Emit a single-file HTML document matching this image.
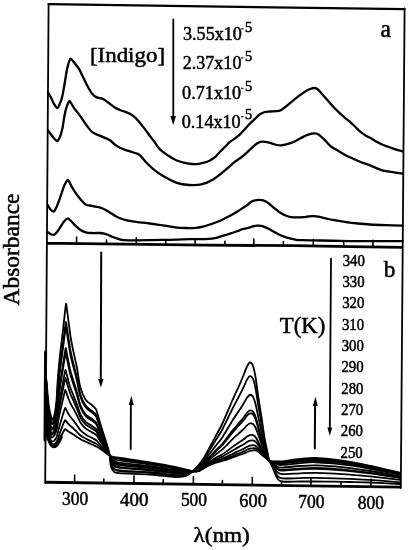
<!DOCTYPE html>
<html><head><meta charset="utf-8"><style>
html,body{margin:0;padding:0;background:#fff;}
svg{display:block;will-change:transform;}
text{font-family:"Liberation Serif",serif;fill:#000;stroke:#000;stroke-width:0.5px;}
</style></head><body>
<svg width="408" height="550" viewBox="0 0 408 550">
<rect width="408" height="550" fill="#fff"/>
<g fill="none" stroke="#000" stroke-linecap="round" stroke-linejoin="round">
<line x1="48.50" y1="4.20" x2="404.50" y2="9.20" stroke-width="2.20"/>
<line x1="48.60" y1="4.00" x2="45.20" y2="483.00" stroke-width="1.80"/>
<line x1="45.60" y1="352.00" x2="45.00" y2="440.00" stroke-width="3.00"/>
<line x1="404.60" y1="8.50" x2="400.80" y2="488.00" stroke-width="1.80"/>
<polyline points="46.8,243.3 60,243.4 125,244.2 205,245.2 295,245.7 350,246.6 403,247.3" stroke-width="2.8" stroke-linecap="butt"/>
<polyline points="45,482.2 401,487.1" stroke-width="2.9" stroke-linecap="butt"/>
<line x1="76.60" y1="243.60" x2="76.60" y2="237.10" stroke-width="1.60"/>
<line x1="106.50" y1="243.97" x2="106.50" y2="239.97" stroke-width="1.60"/>
<line x1="136.30" y1="244.34" x2="136.30" y2="237.84" stroke-width="1.60"/>
<line x1="165.80" y1="244.71" x2="165.80" y2="240.71" stroke-width="1.60"/>
<line x1="195.20" y1="245.08" x2="195.20" y2="238.58" stroke-width="1.60"/>
<line x1="224.90" y1="245.31" x2="224.90" y2="241.31" stroke-width="1.60"/>
<line x1="253.80" y1="245.47" x2="253.80" y2="238.97" stroke-width="1.60"/>
<line x1="283.40" y1="245.64" x2="283.40" y2="241.64" stroke-width="1.60"/>
<line x1="313.30" y1="246.00" x2="313.30" y2="239.50" stroke-width="1.60"/>
<line x1="343.70" y1="246.50" x2="343.70" y2="242.50" stroke-width="1.60"/>
<line x1="373.00" y1="246.90" x2="373.00" y2="240.40" stroke-width="1.60"/>
<line x1="74.60" y1="482.61" x2="74.60" y2="475.11" stroke-width="1.60"/>
<line x1="103.80" y1="483.01" x2="103.80" y2="479.01" stroke-width="1.60"/>
<line x1="134.00" y1="483.43" x2="134.00" y2="475.93" stroke-width="1.60"/>
<line x1="163.20" y1="483.83" x2="163.20" y2="479.83" stroke-width="1.60"/>
<line x1="193.40" y1="484.24" x2="193.40" y2="476.74" stroke-width="1.60"/>
<line x1="222.40" y1="484.64" x2="222.40" y2="480.64" stroke-width="1.60"/>
<line x1="252.30" y1="485.05" x2="252.30" y2="477.55" stroke-width="1.60"/>
<line x1="281.50" y1="485.46" x2="281.50" y2="481.46" stroke-width="1.60"/>
<line x1="311.00" y1="485.86" x2="311.00" y2="478.36" stroke-width="1.60"/>
<line x1="341.00" y1="486.27" x2="341.00" y2="482.27" stroke-width="1.60"/>
<line x1="370.90" y1="486.69" x2="370.90" y2="479.19" stroke-width="1.60"/>
<path d="M48.00,92.50 C48.50,93.33 50.08,95.75 51.00,97.50 C51.92,99.25 52.45,101.25 53.50,103.00 C54.55,104.75 56.22,107.97 57.30,108.00 C58.38,108.03 59.15,105.20 60.00,103.20 C60.85,101.20 61.55,99.78 62.40,96.00 C63.25,92.22 64.27,85.23 65.10,80.50 C65.93,75.77 66.48,71.27 67.40,67.60 C68.32,63.93 70.17,58.76 70.60,58.50 C71.03,58.24 73.28,61.43 74.70,63.20 C76.12,64.97 77.63,66.65 79.10,69.10 C80.57,71.55 82.03,74.95 83.50,77.90 C84.97,80.85 86.42,84.10 87.90,86.80 C89.38,89.50 90.92,92.33 92.40,94.10 C93.88,95.87 95.10,96.62 96.80,97.40 C98.50,98.18 100.65,97.90 102.60,98.80 C104.55,99.70 106.53,101.40 108.50,102.80 C110.47,104.20 112.48,106.00 114.40,107.20 C116.32,108.40 118.23,109.25 120.00,110.00 C121.77,110.75 123.33,111.07 125.00,111.70 C126.67,112.33 128.33,112.85 130.00,113.80 C131.67,114.75 133.33,115.88 135.00,117.40 C136.67,118.92 138.33,120.92 140.00,122.90 C141.67,124.88 143.33,127.12 145.00,129.30 C146.67,131.48 148.33,133.78 150.00,136.00 C151.67,138.22 153.33,140.37 155.00,142.60 C156.67,144.83 157.93,147.32 160.00,149.40 C162.07,151.48 164.70,153.30 167.40,155.10 C170.10,156.90 172.88,158.83 176.20,160.20 C179.52,161.57 183.83,162.65 187.30,163.30 C190.77,163.95 194.05,164.25 197.00,164.10 C199.95,163.95 202.83,163.00 205.00,162.40 C207.17,161.80 208.33,161.37 210.00,160.50 C211.67,159.63 213.33,158.65 215.00,157.20 C216.67,155.75 218.33,153.53 220.00,151.80 C221.67,150.07 223.33,148.45 225.00,146.80 C226.67,145.15 228.33,143.30 230.00,141.90 C231.67,140.50 233.33,139.67 235.00,138.40 C236.67,137.13 238.33,135.87 240.00,134.30 C241.67,132.73 243.33,130.80 245.00,129.00 C246.67,127.20 248.33,125.20 250.00,123.50 C251.67,121.80 253.33,120.35 255.00,118.80 C256.67,117.25 258.33,115.33 260.00,114.20 C261.67,113.07 263.33,112.45 265.00,112.00 C266.67,111.55 267.67,111.68 270.00,111.50 C272.33,111.32 276.67,111.48 279.00,110.90 C281.33,110.32 282.37,109.12 284.00,108.00 C285.63,106.88 286.37,106.17 288.80,104.20 C291.23,102.23 295.73,98.40 298.60,96.20 C301.47,94.00 304.10,92.20 306.00,91.00 C307.90,89.80 308.53,89.50 310.00,89.00 C311.47,88.50 313.47,87.92 314.80,88.00 C316.13,88.08 316.80,88.50 318.00,89.50 C319.20,90.50 320.67,92.48 322.00,94.00 C323.33,95.52 324.67,97.08 326.00,98.60 C327.33,100.12 328.50,101.45 330.00,103.10 C331.50,104.75 333.33,106.78 335.00,108.50 C336.67,110.22 338.33,111.85 340.00,113.40 C341.67,114.95 343.33,116.40 345.00,117.80 C346.67,119.20 348.33,120.33 350.00,121.80 C351.67,123.27 353.33,125.02 355.00,126.60 C356.67,128.18 358.33,129.90 360.00,131.30 C361.67,132.70 363.32,133.92 365.00,135.00 C366.68,136.08 367.25,136.22 370.10,137.80 C372.95,139.38 378.10,142.67 382.10,144.50 C386.10,146.33 390.70,147.67 394.10,148.80 C397.50,149.93 401.10,150.88 402.50,151.30" stroke-width="2.3"/>
<path d="M48.00,130.30 C48.50,131.00 50.03,133.22 51.00,134.50 C51.97,135.78 52.77,136.92 53.80,138.00 C54.83,139.08 56.17,141.20 57.20,141.00 C58.23,140.80 59.12,138.97 60.00,136.80 C60.88,134.63 61.73,131.63 62.50,128.00 C63.27,124.37 63.88,118.62 64.60,115.00 C65.32,111.38 65.97,108.67 66.80,106.30 C67.63,103.93 69.19,100.72 69.60,100.80 C70.01,100.88 71.93,104.93 73.80,107.60 C75.67,110.27 78.77,113.98 80.80,116.80 C82.83,119.62 83.97,121.85 86.00,124.50 C88.03,127.15 90.20,130.63 93.00,132.70 C95.80,134.77 99.97,135.63 102.80,136.90 C105.63,138.17 107.97,139.00 110.00,140.30 C112.03,141.60 113.33,143.45 115.00,144.70 C116.67,145.95 118.33,146.95 120.00,147.80 C121.67,148.65 123.33,149.20 125.00,149.80 C126.67,150.40 128.33,150.87 130.00,151.40 C131.67,151.93 133.33,152.35 135.00,153.00 C136.67,153.65 137.92,153.50 140.00,155.30 C142.08,157.10 144.77,161.07 147.50,163.80 C150.23,166.53 153.45,169.47 156.40,171.70 C159.35,173.93 161.80,175.33 165.20,177.20 C168.60,179.07 172.83,181.60 176.80,182.90 C180.77,184.20 184.92,184.75 189.00,185.00 C193.08,185.25 197.22,185.37 201.30,184.40 C205.38,183.43 209.42,181.67 213.50,179.20 C217.58,176.73 222.38,172.38 225.80,169.60 C229.22,166.82 231.25,164.68 234.00,162.50 C236.75,160.32 239.30,158.95 242.30,156.50 C245.30,154.05 249.55,149.97 252.00,147.80 C254.45,145.63 255.35,144.52 257.00,143.50 C258.65,142.48 259.87,141.85 261.90,141.70 C263.93,141.55 267.02,142.13 269.20,142.60 C271.38,143.07 272.95,144.05 275.00,144.50 C277.05,144.95 278.78,145.57 281.50,145.30 C284.22,145.03 288.05,144.12 291.30,142.90 C294.55,141.68 298.55,139.23 301.00,138.00 C303.45,136.77 304.35,136.20 306.00,135.50 C307.65,134.80 309.03,134.10 310.90,133.80 C312.77,133.50 314.95,132.72 317.20,133.70 C319.45,134.68 322.10,137.57 324.40,139.70 C326.70,141.83 328.60,144.58 331.00,146.50 C333.40,148.42 336.30,149.72 338.80,151.20 C341.30,152.68 343.58,154.15 346.00,155.40 C348.42,156.65 350.63,157.52 353.30,158.70 C355.97,159.88 359.20,161.38 362.00,162.50 C364.80,163.62 366.75,164.10 370.10,165.40 C373.45,166.70 378.10,169.13 382.10,170.30 C386.10,171.47 390.70,171.85 394.10,172.40 C397.50,172.95 401.10,173.40 402.50,173.60" stroke-width="2.3"/>
<path d="M48.00,205.30 C48.42,206.00 49.53,208.47 50.50,209.50 C51.47,210.53 52.72,212.08 53.80,211.50 C54.88,210.92 55.80,208.75 57.00,206.00 C58.20,203.25 59.75,198.50 61.00,195.00 C62.25,191.50 63.33,187.57 64.50,185.00 C65.67,182.43 67.65,179.53 68.00,179.60 C68.35,179.66 70.18,184.00 71.50,186.30 C72.82,188.60 74.40,191.25 75.90,193.40 C77.40,195.55 78.87,197.33 80.50,199.20 C82.13,201.07 84.12,203.55 85.70,204.60 C87.28,205.65 88.37,205.17 90.00,205.50 C91.63,205.83 93.37,206.10 95.50,206.60 C97.63,207.10 100.35,207.48 102.80,208.50 C105.25,209.52 108.17,211.48 110.20,212.70 C112.23,213.92 113.37,214.87 115.00,215.80 C116.63,216.73 118.17,217.57 120.00,218.30 C121.83,219.03 123.97,219.70 126.00,220.20 C128.03,220.70 129.87,220.95 132.20,221.30 C134.53,221.65 137.03,221.93 140.00,222.30 C142.97,222.67 145.92,222.95 150.00,223.50 C154.08,224.05 160.33,224.95 164.50,225.60 C168.67,226.25 171.42,227.00 175.00,227.40 C178.58,227.80 182.50,227.93 186.00,228.00 C189.50,228.07 193.00,228.07 196.00,227.80 C199.00,227.53 201.33,227.07 204.00,226.40 C206.67,225.73 209.50,224.67 212.00,223.80 C214.50,222.93 216.67,222.20 219.00,221.20 C221.33,220.20 224.00,218.80 226.00,217.80 C228.00,216.80 229.03,216.30 231.00,215.20 C232.97,214.10 235.92,212.33 237.80,211.20 C239.68,210.07 240.77,209.38 242.30,208.40 C243.83,207.42 245.38,206.47 247.00,205.30 C248.62,204.13 249.93,202.30 252.00,201.40 C254.07,200.50 256.93,199.82 259.40,199.90 C261.87,199.98 264.35,200.55 266.80,201.90 C269.25,203.25 271.65,206.05 274.10,208.00 C276.55,209.95 279.35,212.27 281.50,213.60 C283.65,214.93 285.37,215.42 287.00,216.00 C288.63,216.58 289.63,216.87 291.30,217.10 C292.97,217.33 294.97,217.40 297.00,217.40 C299.03,217.40 301.67,217.25 303.50,217.10 C305.33,216.95 306.37,216.67 308.00,216.50 C309.63,216.33 311.37,216.05 313.30,216.10 C315.23,216.15 317.15,216.32 319.60,216.80 C322.05,217.28 325.60,218.43 328.00,219.00 C330.40,219.57 331.00,219.68 334.00,220.20 C337.00,220.72 342.00,221.55 346.00,222.10 C350.00,222.65 353.98,223.10 358.00,223.50 C362.02,223.90 365.43,224.22 370.10,224.50 C374.77,224.78 380.60,225.00 386.00,225.20 C391.40,225.40 399.75,225.62 402.50,225.70" stroke-width="2.3"/>
<path d="M48.00,232.30 C48.42,232.58 49.53,233.58 50.50,234.00 C51.47,234.42 52.72,235.13 53.80,234.80 C54.88,234.47 55.80,233.47 57.00,232.00 C58.20,230.53 59.75,227.83 61.00,226.00 C62.25,224.17 63.33,222.28 64.50,221.00 C65.67,219.72 67.65,218.28 68.00,218.30 C68.35,218.33 70.18,220.18 71.50,221.50 C72.82,222.82 74.40,224.78 75.90,226.20 C77.40,227.62 78.87,228.98 80.50,230.00 C82.13,231.02 83.78,231.80 85.70,232.30 C87.62,232.80 89.55,232.88 92.00,233.00 C94.45,233.12 98.40,232.90 100.40,233.00 C102.40,233.10 102.78,233.30 104.00,233.60 C105.22,233.90 106.37,234.28 107.70,234.80 C109.03,235.32 110.37,236.07 112.00,236.70 C113.63,237.33 115.50,238.02 117.50,238.60 C119.50,239.18 121.08,239.92 124.00,240.20 C126.92,240.48 130.67,240.30 135.00,240.30 C139.33,240.30 144.17,240.28 150.00,240.20 C155.83,240.12 163.33,239.97 170.00,239.80 C176.67,239.63 184.17,239.32 190.00,239.20 C195.83,239.08 201.33,239.20 205.00,239.10 C208.67,239.00 209.83,238.88 212.00,238.60 C214.17,238.32 215.95,237.95 218.00,237.40 C220.05,236.85 222.30,235.92 224.30,235.30 C226.30,234.68 227.75,234.42 230.00,233.70 C232.25,232.98 235.75,231.75 237.80,231.00 C239.85,230.25 240.60,229.70 242.30,229.20 C244.00,228.70 246.22,228.48 248.00,228.00 C249.78,227.52 251.50,226.68 253.00,226.30 C254.50,225.92 255.67,225.78 257.00,225.70 C258.33,225.62 259.78,225.60 261.00,225.80 C262.22,226.00 262.97,226.37 264.30,226.90 C265.63,227.43 267.37,228.18 269.00,229.00 C270.63,229.82 272.43,230.88 274.10,231.80 C275.77,232.72 277.37,233.68 279.00,234.50 C280.63,235.32 282.07,236.05 283.90,236.70 C285.73,237.35 287.95,237.88 290.00,238.40 C292.05,238.92 294.03,239.52 296.20,239.80 C298.37,240.08 300.55,240.02 303.00,240.10 C305.45,240.18 308.07,240.23 310.90,240.30 C313.73,240.37 315.15,240.40 320.00,240.50 C324.85,240.60 333.33,240.80 340.00,240.90 C346.67,241.00 353.33,241.07 360.00,241.10 C366.67,241.13 372.92,241.08 380.00,241.10 C387.08,241.12 398.75,241.18 402.50,241.20" stroke-width="2.3"/>
<path d="M45.80,398.00 C45.87,401.67 45.93,414.17 46.20,420.00 C46.47,425.83 46.83,429.42 47.40,433.00 C47.97,436.58 48.73,439.33 49.60,441.50 C50.47,443.67 51.57,445.28 52.60,446.00 C53.63,446.72 54.80,446.47 55.80,445.80 C56.80,445.13 57.73,443.47 58.60,442.00 C59.47,440.53 60.60,437.83 61.00,437.00" stroke-width="3.6"/>
<path d="M46.50,380.00 C46.77,383.33 47.60,395.00 48.10,400.00 C48.60,405.00 49.05,407.42 49.50,410.00 C49.95,412.58 50.25,413.92 50.80,415.50 C51.35,417.08 52.07,420.25 52.80,419.50 C53.53,418.75 54.57,414.42 55.20,411.00 C55.83,407.58 56.23,403.33 56.60,399.00 C56.97,394.67 56.92,391.50 57.40,385.00 C57.88,378.50 58.57,369.17 59.50,360.00 C60.43,350.83 61.92,339.37 63.00,330.00 C64.08,320.63 65.72,304.20 66.00,303.80 C66.28,303.40 67.83,316.47 68.60,322.00 C69.37,327.53 69.78,332.00 70.60,337.00 C71.42,342.00 72.43,346.83 73.50,352.00 C74.57,357.17 75.88,362.22 77.00,368.00 C78.12,373.78 78.78,381.45 80.20,386.70 C81.62,391.95 83.45,396.35 85.50,399.50 C87.55,402.65 90.70,403.85 92.50,405.60 C94.30,407.35 95.62,408.36 96.30,410.00 C96.97,411.64 99.83,422.08 101.50,427.50 C103.17,432.92 104.95,437.92 106.30,442.50 C107.65,447.08 108.85,451.17 109.60,455.00 C110.35,458.83 110.23,462.92 110.80,465.50 C111.37,468.08 111.63,469.22 113.00,470.50 C114.37,471.78 112.83,472.53 119.00,473.20 C125.17,473.87 140.67,473.87 150.00,474.50 C159.33,475.13 169.00,476.75 175.00,477.00 C181.00,477.25 182.83,477.17 186.00,476.00 C189.17,474.83 191.83,471.92 194.00,470.00 C196.17,468.08 197.43,466.42 199.00,464.50 C200.57,462.58 201.68,461.25 203.40,458.50 C205.12,455.75 207.23,451.75 209.30,448.00 C211.37,444.25 213.62,440.08 215.80,436.00 C217.98,431.92 219.53,429.67 222.40,423.50 C225.27,417.33 230.23,405.25 233.00,399.00 C235.77,392.75 237.20,390.08 239.00,386.00 C240.80,381.92 242.47,377.75 243.80,374.50 C245.13,371.25 245.97,368.50 247.00,366.50 C248.03,364.50 249.00,362.58 250.00,362.50 C251.00,362.42 252.08,363.58 253.00,366.00 C253.92,368.42 254.67,372.17 255.50,377.00 C256.33,381.83 256.93,387.83 258.00,395.00 C259.07,402.17 260.75,412.50 261.90,420.00 C263.05,427.50 263.98,434.67 264.90,440.00 C265.82,445.33 266.72,448.67 267.40,452.00 C268.08,455.33 268.23,457.67 269.00,460.00 C269.77,462.33 270.63,463.00 272.00,466.00 C273.37,469.00 275.47,475.42 277.20,478.00 C278.93,480.58 278.60,480.92 282.40,481.50 C286.20,482.08 294.57,481.50 300.00,481.50 C305.43,481.50 309.17,481.47 315.00,481.50 C320.83,481.53 329.17,481.62 335.00,481.70 C340.83,481.78 344.17,481.87 350.00,482.00 C355.83,482.13 361.67,482.17 370.00,482.50 C378.33,482.83 395.00,483.75 400.00,484.00" stroke-width="1.8"/>
<path d="M46.50,382.91 C46.74,386.24 47.46,397.86 47.91,402.91 C48.36,407.96 48.79,410.51 49.22,413.20 C49.66,415.89 49.99,417.38 50.54,419.06 C51.09,420.74 51.80,423.75 52.54,423.28 C53.27,422.81 54.29,419.14 54.95,416.23 C55.62,413.33 56.10,409.61 56.51,405.83 C56.92,402.06 56.93,399.24 57.41,393.58 C57.90,387.91 58.52,379.91 59.43,371.85 C60.33,363.78 61.78,353.50 62.85,345.19 C63.93,336.88 65.58,322.37 65.85,322.00 C66.13,321.63 67.66,333.00 68.44,337.82 C69.22,342.63 69.67,346.52 70.51,350.88 C71.36,355.25 72.42,359.47 73.50,363.99 C74.58,368.52 75.86,372.97 77.00,378.03 C78.14,383.09 78.89,389.77 80.32,394.38 C81.75,398.98 83.55,402.84 85.57,405.65 C87.59,408.46 90.63,409.65 92.43,411.25 C94.22,412.86 95.65,413.84 96.33,415.31 C97.01,416.77 99.85,425.95 101.50,430.74 C103.15,435.53 104.91,439.97 106.26,444.03 C107.61,448.08 108.79,451.70 109.60,455.07 C110.41,458.44 110.48,461.98 111.12,464.24 C111.76,466.49 112.05,467.45 113.44,468.58 C114.82,469.71 113.34,470.33 119.44,471.02 C125.53,471.71 140.74,471.99 150.00,472.74 C159.26,473.49 169.00,475.13 175.00,475.52 C181.00,475.90 182.83,475.93 186.00,475.05 C189.17,474.17 191.83,471.82 194.00,470.23 C196.17,468.63 197.43,467.19 199.00,465.50 C200.57,463.80 201.68,462.51 203.40,460.04 C205.12,457.56 207.23,453.97 209.30,450.64 C211.37,447.32 213.62,443.65 215.80,440.09 C217.98,436.53 219.57,434.60 222.40,429.27 C225.23,423.93 230.04,413.50 232.78,408.07 C235.53,402.64 237.01,400.26 238.85,396.69 C240.68,393.12 242.44,389.49 243.80,386.65 C245.16,383.81 245.97,381.40 247.00,379.65 C248.03,377.89 249.00,376.22 250.00,376.11 C251.00,375.99 252.08,376.93 253.00,378.96 C253.92,380.99 254.67,384.15 255.50,388.27 C256.33,392.39 256.96,397.53 258.00,403.69 C259.04,409.85 260.63,418.75 261.76,425.23 C262.89,431.70 263.84,437.91 264.76,442.54 C265.68,447.17 266.56,450.08 267.26,453.00 C267.97,455.92 268.21,458.03 269.00,460.08 C269.79,462.13 270.63,462.75 272.00,465.31 C273.37,467.87 275.47,473.25 277.20,475.43 C278.93,477.61 278.60,477.96 282.40,478.39 C286.20,478.83 294.57,478.12 300.00,478.04 C305.43,477.96 309.17,477.84 315.00,477.89 C320.83,477.93 329.17,478.13 335.00,478.30 C340.83,478.47 344.17,478.62 350.00,478.89 C355.83,479.17 361.67,479.37 370.00,479.93 C378.33,480.50 395.00,481.89 400.00,482.28" stroke-width="1.8"/>
<path d="M46.50,383.71 C46.73,387.04 47.42,398.64 47.86,403.71 C48.30,408.77 48.71,411.35 49.15,414.08 C49.58,416.80 49.91,418.33 50.47,420.04 C51.02,421.75 51.73,424.71 52.47,424.32 C53.20,423.92 54.21,420.44 54.88,417.67 C55.56,414.90 56.07,411.33 56.49,407.71 C56.91,404.09 56.93,401.37 57.42,395.93 C57.90,390.50 58.51,382.86 59.41,375.10 C60.31,367.34 61.75,357.38 62.81,349.36 C63.88,341.35 65.54,327.36 65.81,327.00 C66.09,326.64 67.62,337.54 68.40,342.16 C69.18,346.78 69.64,350.51 70.49,354.70 C71.34,358.88 72.41,362.94 73.50,367.29 C74.59,371.64 75.86,375.92 77.00,380.79 C78.14,385.65 78.92,392.06 80.35,396.48 C81.78,400.91 83.58,404.62 85.59,407.34 C87.60,410.06 90.62,411.24 92.41,412.81 C94.20,414.38 95.66,415.35 96.34,416.76 C97.02,418.18 99.85,427.02 101.50,431.63 C103.15,436.25 104.89,440.54 106.24,444.45 C107.59,448.36 108.77,451.85 109.60,455.09 C110.43,458.33 110.55,461.73 111.21,463.89 C111.87,466.05 112.16,466.97 113.56,468.05 C114.95,469.14 113.48,469.72 119.56,470.42 C125.63,471.12 140.76,471.48 150.00,472.26 C159.24,473.04 169.00,474.70 175.00,475.11 C181.00,475.52 182.83,475.50 186.00,474.72 C189.17,473.94 191.83,471.76 194.00,470.44 C196.17,469.12 197.43,468.17 199.00,466.79 C200.57,465.41 201.68,464.23 203.40,462.14 C205.12,460.06 207.23,457.01 209.30,454.27 C211.37,451.53 213.62,448.54 215.80,445.69 C217.98,442.84 219.62,441.37 222.40,437.17 C225.18,432.97 229.78,424.81 232.49,420.50 C235.20,416.20 236.75,414.20 238.64,411.33 C240.52,408.46 242.41,405.57 243.80,403.29 C245.19,401.01 245.97,399.08 247.00,397.66 C248.03,396.24 249.00,394.91 250.00,394.76 C251.00,394.60 252.08,395.23 253.00,396.72 C253.92,398.22 254.67,400.57 255.50,403.72 C256.33,406.86 256.99,410.81 258.00,415.59 C259.01,420.37 260.48,427.32 261.57,432.39 C262.67,437.46 263.66,442.35 264.57,446.01 C265.49,449.68 266.33,452.01 267.07,454.37 C267.81,456.73 268.18,458.52 269.00,460.18 C269.82,461.85 270.63,462.40 272.00,464.36 C273.37,466.32 275.47,470.28 277.20,471.91 C278.93,473.54 278.60,473.91 282.40,474.14 C286.20,474.37 294.57,473.50 300.00,473.30 C305.43,473.10 309.17,472.88 315.00,472.94 C320.83,472.99 329.17,473.36 335.00,473.65 C340.83,473.93 344.17,474.18 350.00,474.64 C355.83,475.10 361.67,475.53 370.00,476.41 C378.33,477.29 395.00,479.33 400.00,479.92" stroke-width="1.8"/>
<path d="M46.50,387.06 C46.69,390.39 47.25,401.94 47.64,407.06 C48.03,412.18 48.41,414.92 48.83,417.77 C49.25,420.61 49.61,422.33 50.16,424.15 C50.72,425.97 51.43,428.75 52.16,428.68 C52.90,428.61 53.90,425.89 54.60,423.71 C55.30,421.53 55.92,418.57 56.39,415.59 C56.86,412.61 56.95,410.30 57.44,405.83 C57.92,401.36 58.45,395.26 59.32,388.77 C60.19,382.28 61.59,373.69 62.65,366.89 C63.70,360.10 65.37,348.32 65.65,348.00 C65.93,347.68 67.42,356.62 68.21,360.41 C69.00,364.20 69.51,367.26 70.39,370.71 C71.27,374.17 72.40,377.52 73.50,381.13 C74.60,384.73 75.84,388.32 77.00,392.36 C78.16,396.40 79.04,401.66 80.48,405.34 C81.93,409.02 83.70,412.10 85.68,414.43 C87.65,416.77 90.54,417.92 92.32,419.33 C94.11,420.74 95.68,421.68 96.37,422.89 C97.06,424.09 99.86,431.49 101.50,435.37 C103.14,439.26 104.84,442.91 106.19,446.21 C107.54,449.51 108.70,452.47 109.60,455.18 C110.50,457.88 110.83,460.65 111.58,462.43 C112.32,464.21 112.65,464.93 114.06,465.84 C115.47,466.75 114.07,467.17 120.06,467.90 C126.05,468.64 140.84,469.31 150.00,470.23 C159.16,471.14 169.00,472.83 175.00,473.40 C181.00,473.96 182.83,474.07 186.00,473.62 C189.17,473.17 191.83,471.65 194.00,470.70 C196.17,469.75 197.43,469.07 199.00,467.94 C200.57,466.80 201.68,465.68 203.40,463.91 C205.12,462.14 207.23,459.56 209.30,457.31 C211.37,455.05 213.62,452.64 215.80,450.39 C217.98,448.14 219.66,447.03 222.40,443.79 C225.14,440.54 229.57,434.28 232.24,430.92 C234.92,427.55 236.53,425.88 238.46,423.60 C240.39,421.32 242.38,419.05 243.80,417.24 C245.22,415.43 245.97,413.90 247.00,412.76 C248.03,411.61 249.00,410.57 250.00,410.38 C251.00,410.19 252.08,410.56 253.00,411.61 C253.92,412.65 254.67,414.33 255.50,416.66 C256.33,418.98 257.01,421.94 258.00,425.57 C258.99,429.19 260.34,434.50 261.41,438.39 C262.48,442.29 263.50,446.07 264.41,448.93 C265.33,451.78 266.15,453.63 266.91,455.52 C267.68,457.41 268.15,458.93 269.00,460.27 C269.85,461.61 270.63,462.12 272.00,463.57 C273.37,465.01 275.47,467.80 277.20,468.97 C278.93,470.13 278.60,470.51 282.40,470.57 C286.20,470.63 294.57,469.62 300.00,469.33 C305.43,469.03 309.17,468.72 315.00,468.79 C320.83,468.86 329.17,469.36 335.00,469.74 C340.83,470.12 344.17,470.45 350.00,471.07 C355.83,471.69 361.67,472.32 370.00,473.47 C378.33,474.61 395.00,477.19 400.00,477.94" stroke-width="1.8"/>
<path d="M46.50,387.86 C46.68,391.19 47.21,402.73 47.59,407.86 C47.96,412.99 48.34,415.77 48.75,418.65 C49.17,421.52 49.54,423.28 50.09,425.13 C50.65,426.97 51.35,429.71 52.09,429.72 C52.83,429.72 53.82,427.19 54.53,425.15 C55.24,423.11 55.88,420.30 56.36,417.47 C56.85,414.64 56.95,412.43 57.44,408.19 C57.93,403.94 58.44,398.21 59.30,392.03 C60.16,385.84 61.56,377.57 62.61,371.07 C63.66,364.56 65.33,353.32 65.61,353.00 C65.89,352.68 67.37,361.17 68.17,364.76 C68.96,368.34 69.48,371.25 70.36,374.53 C71.25,377.81 72.39,380.99 73.50,384.42 C74.61,387.85 75.83,391.28 77.00,395.12 C78.17,398.95 79.06,403.95 80.51,407.45 C81.96,410.95 83.73,413.88 85.70,416.12 C87.66,418.36 90.52,419.52 92.30,420.89 C94.08,422.26 95.69,423.19 96.38,424.34 C97.07,425.50 99.87,432.55 101.50,436.26 C103.13,439.98 104.83,443.47 106.18,446.63 C107.53,449.78 108.69,452.62 109.60,455.20 C110.51,457.77 110.90,460.40 111.66,462.08 C112.43,463.77 112.76,464.44 114.18,465.31 C115.60,466.18 114.21,466.57 120.18,467.31 C126.15,468.04 140.86,468.80 150.00,469.75 C159.14,470.69 169.00,472.39 175.00,472.99 C181.00,473.60 182.83,473.74 186.00,473.37 C189.17,472.99 191.83,471.62 194.00,470.75 C196.17,469.89 197.43,469.24 199.00,468.16 C200.57,467.08 201.68,465.96 203.40,464.25 C205.12,462.54 207.23,460.05 209.30,457.89 C211.37,455.73 213.62,453.44 215.80,451.30 C217.98,449.16 219.67,448.13 222.40,445.07 C225.13,442.01 229.52,436.12 232.19,432.94 C234.87,429.75 236.49,428.14 238.42,425.97 C240.36,423.81 242.37,421.65 243.80,419.94 C245.23,418.22 245.97,416.77 247.00,415.68 C248.03,414.59 249.00,413.60 250.00,413.40 C251.00,413.20 252.08,413.53 253.00,414.49 C253.92,415.45 254.67,416.99 255.50,419.16 C256.33,421.33 257.02,424.10 258.00,427.50 C258.98,430.90 260.32,435.89 261.38,439.56 C262.45,443.22 263.47,446.79 264.38,449.49 C265.30,452.19 266.11,453.94 266.88,455.74 C267.65,457.54 268.15,459.01 269.00,460.29 C269.85,461.57 270.63,462.06 272.00,463.41 C273.37,464.76 275.47,467.32 277.20,468.39 C278.93,469.47 278.60,469.85 282.40,469.88 C286.20,469.91 294.57,468.88 300.00,468.56 C305.43,468.24 309.17,467.91 315.00,467.98 C320.83,468.06 329.17,468.59 335.00,468.99 C340.83,469.39 344.17,469.73 350.00,470.38 C355.83,471.03 361.67,471.70 370.00,472.89 C378.33,474.09 395.00,476.78 400.00,477.56" stroke-width="1.8"/>
<path d="M46.50,390.58 C46.65,393.91 47.08,405.40 47.41,410.58 C47.75,415.75 48.09,418.65 48.50,421.63 C48.90,424.61 49.29,426.52 49.85,428.45 C50.41,430.39 51.11,432.98 51.85,433.25 C52.59,433.51 53.56,431.60 54.30,430.04 C55.04,428.47 55.76,426.16 56.28,423.85 C56.81,421.54 56.96,419.66 57.45,416.20 C57.95,412.74 58.40,408.25 59.24,403.09 C60.07,397.94 61.43,390.77 62.47,385.25 C63.51,379.74 65.19,370.29 65.47,370.00 C65.75,369.71 67.22,376.61 68.02,379.53 C68.82,382.44 69.37,384.81 70.28,387.50 C71.20,390.18 72.38,392.79 73.50,395.62 C74.62,398.45 75.81,401.32 77.00,404.48 C78.19,407.65 79.16,411.72 80.62,414.62 C82.08,417.52 83.83,419.94 85.76,421.87 C87.70,423.79 90.46,424.93 92.24,426.17 C94.01,427.41 95.71,428.32 96.41,429.30 C97.10,430.28 99.88,436.17 101.50,439.29 C103.12,442.42 104.79,445.39 106.14,448.05 C107.49,450.71 108.63,453.12 109.60,455.26 C110.57,457.41 111.13,459.52 111.96,460.90 C112.79,462.28 113.15,462.79 114.59,463.52 C116.02,464.25 114.68,464.51 120.59,465.27 C126.49,466.03 140.93,467.05 150.00,468.10 C159.07,469.16 169.00,470.87 175.00,471.61 C181.00,472.34 182.83,472.61 186.00,472.49 C189.17,472.38 191.83,471.53 194.00,470.94 C196.17,470.34 197.43,469.83 199.00,468.91 C200.57,467.99 201.68,466.90 203.40,465.39 C205.12,463.88 207.23,461.70 209.30,459.85 C211.37,458.01 213.62,456.08 215.80,454.33 C217.98,452.58 219.69,451.79 222.40,449.34 C225.11,446.89 229.38,442.23 232.04,439.65 C234.69,437.08 236.35,435.68 238.31,433.89 C240.27,432.10 242.35,430.35 243.80,428.94 C245.25,427.52 245.97,426.32 247.00,425.42 C248.03,424.51 249.00,423.70 250.00,423.48 C251.00,423.26 252.08,423.42 253.00,424.09 C253.92,424.76 254.67,425.87 255.50,427.51 C256.33,429.15 257.04,431.28 258.00,433.93 C258.96,436.59 260.23,440.52 261.28,443.43 C262.33,446.33 263.36,449.19 264.28,451.37 C265.20,453.54 265.99,454.98 266.78,456.48 C267.57,457.97 268.13,459.27 269.00,460.34 C269.87,461.41 270.63,461.87 272.00,462.90 C273.37,463.92 275.47,465.71 277.20,466.49 C278.93,467.27 278.60,467.66 282.40,467.58 C286.20,467.50 294.57,466.38 300.00,466.00 C305.43,465.62 309.17,465.23 315.00,465.31 C320.83,465.39 329.17,466.01 335.00,466.47 C340.83,466.93 344.17,467.33 350.00,468.08 C355.83,468.83 361.67,469.63 370.00,470.99 C378.33,472.36 395.00,475.40 400.00,476.28" stroke-width="1.8"/>
<path d="M46.50,391.85 C46.64,395.19 47.02,406.66 47.33,411.85 C47.64,417.05 47.97,420.01 48.37,423.04 C48.77,426.07 49.17,428.04 49.73,430.02 C50.29,432.00 50.99,434.52 51.73,434.91 C52.48,435.29 53.44,433.68 54.19,432.34 C54.94,430.99 55.70,428.92 56.24,426.85 C56.79,424.79 56.97,423.06 57.46,419.97 C57.95,416.87 58.38,412.97 59.20,408.30 C60.03,403.63 61.37,396.98 62.41,391.93 C63.44,386.88 65.13,378.27 65.41,378.00 C65.68,377.73 67.14,383.88 67.95,386.48 C68.75,389.08 69.32,391.20 70.24,393.60 C71.17,396.00 72.37,398.34 73.50,400.89 C74.63,403.44 75.80,406.04 77.00,408.89 C78.20,411.74 79.21,415.38 80.67,417.99 C82.14,420.60 83.87,422.79 85.80,424.57 C87.72,426.35 90.43,427.48 92.20,428.65 C93.97,429.83 95.72,430.73 96.42,431.63 C97.12,432.54 99.88,437.87 101.50,440.72 C103.12,443.56 104.77,446.29 106.12,448.72 C107.47,451.15 108.60,453.36 109.60,455.30 C110.60,457.23 111.24,459.11 112.10,460.34 C112.97,461.57 113.33,462.02 114.78,462.68 C116.22,463.34 114.91,463.53 120.78,464.31 C126.65,465.09 140.96,466.22 150.00,467.33 C159.04,468.44 169.00,470.17 175.00,470.95 C181.00,471.74 182.83,472.03 186.00,472.05 C189.17,472.07 191.83,471.48 194.00,471.09 C196.17,470.71 197.43,470.46 199.00,469.73 C200.57,469.00 201.68,467.97 203.40,466.70 C205.12,465.43 207.23,463.59 209.30,462.10 C211.37,460.62 213.62,459.12 215.80,457.81 C217.98,456.50 219.72,455.99 222.40,454.25 C225.08,452.51 229.22,449.26 231.85,447.38 C234.48,445.51 236.19,444.34 238.18,442.99 C240.17,441.64 242.33,440.35 243.80,439.28 C245.27,438.22 245.97,437.32 247.00,436.61 C248.03,435.91 249.00,435.32 250.00,435.07 C251.00,434.83 252.08,434.79 253.00,435.13 C253.92,435.47 254.67,436.08 255.50,437.11 C256.33,438.14 257.06,439.54 258.00,441.33 C258.94,443.13 260.13,445.85 261.16,447.88 C262.19,449.91 263.25,451.96 264.16,453.53 C265.08,455.11 265.86,456.18 266.66,457.33 C267.47,458.48 268.11,459.58 269.00,460.41 C269.89,461.24 270.63,461.66 272.00,462.31 C273.37,462.96 275.47,463.87 277.20,464.31 C278.93,464.74 278.60,465.14 282.40,464.94 C286.20,464.73 294.57,463.50 300.00,463.05 C305.43,462.60 309.17,462.14 315.00,462.23 C320.83,462.32 329.17,463.04 335.00,463.58 C340.83,464.11 344.17,464.56 350.00,465.44 C355.83,466.31 361.67,467.24 370.00,468.81 C378.33,470.37 395.00,473.81 400.00,474.82" stroke-width="1.8"/>
<path d="M46.50,393.77 C46.62,397.10 46.92,408.54 47.20,413.77 C47.49,419.00 47.80,422.05 48.19,425.15 C48.58,428.25 49.00,430.33 49.56,432.37 C50.12,434.41 50.82,436.83 51.56,437.40 C52.31,437.97 53.26,436.79 54.03,435.79 C54.80,434.78 55.61,433.05 56.19,431.36 C56.76,429.67 56.97,428.16 57.47,425.62 C57.96,423.08 58.35,420.06 59.16,416.11 C59.96,412.17 61.29,406.30 62.31,401.95 C63.34,397.60 65.03,390.25 65.31,390.00 C65.59,389.75 67.03,394.78 67.84,396.91 C68.66,399.03 69.24,400.77 70.19,402.75 C71.13,404.73 72.36,406.68 73.50,408.80 C74.64,410.93 75.79,413.13 77.00,415.51 C78.21,417.88 79.28,420.87 80.75,423.05 C82.22,425.24 83.94,427.07 85.84,428.62 C87.75,430.18 90.39,431.30 92.16,432.38 C93.92,433.47 95.74,434.34 96.44,435.13 C97.14,435.92 99.89,440.42 101.50,442.85 C103.11,445.29 104.74,447.65 106.09,449.73 C107.44,451.81 108.56,453.71 109.60,455.34 C110.64,456.97 111.40,458.50 112.31,459.51 C113.23,460.52 113.61,460.85 115.07,461.41 C116.52,461.97 115.24,462.08 121.07,462.87 C126.89,463.67 141.01,464.99 150.00,466.17 C158.99,467.35 169.00,469.10 175.00,469.98 C181.00,470.86 182.83,471.24 186.00,471.44 C189.17,471.65 191.83,471.42 194.00,471.21 C196.17,470.99 197.43,470.80 199.00,470.15 C200.57,469.51 201.68,468.49 203.40,467.33 C205.12,466.17 207.23,464.49 209.30,463.18 C211.37,461.87 213.62,460.58 215.80,459.48 C217.98,458.38 219.74,458.00 222.40,456.60 C225.06,455.20 229.14,452.62 231.76,451.08 C234.38,449.54 236.11,448.49 238.12,447.35 C240.12,446.21 242.32,445.13 243.80,444.23 C245.28,443.34 245.97,442.57 247.00,441.97 C248.03,441.37 249.00,440.88 250.00,440.62 C251.00,440.36 252.08,440.23 253.00,440.41 C253.92,440.59 254.67,440.96 255.50,441.70 C256.33,442.44 257.07,443.49 258.00,444.87 C258.93,446.26 260.09,448.40 261.11,450.01 C262.12,451.63 263.19,453.28 264.11,454.56 C265.02,455.85 265.79,456.76 266.61,457.74 C267.42,458.72 268.10,459.73 269.00,460.44 C269.90,461.16 270.63,461.56 272.00,462.03 C273.37,462.50 275.47,462.99 277.20,463.26 C278.93,463.53 278.60,463.94 282.40,463.67 C286.20,463.40 294.57,462.12 300.00,461.64 C305.43,461.15 309.17,460.66 315.00,460.76 C320.83,460.85 329.17,461.62 335.00,462.19 C340.83,462.76 344.17,463.24 350.00,464.17 C355.83,465.10 361.67,466.10 370.00,467.76 C378.33,469.42 395.00,473.05 400.00,474.11" stroke-width="1.8"/>
<path d="M46.50,396.65 C46.59,399.98 46.78,411.37 47.02,416.65 C47.25,421.92 47.54,425.10 47.92,428.31 C48.30,431.52 48.74,433.75 49.30,435.89 C49.87,438.03 50.55,440.29 51.30,441.14 C52.05,441.98 52.99,441.47 53.79,440.96 C54.58,440.46 55.48,439.26 56.10,438.12 C56.72,436.97 56.99,435.82 57.48,434.10 C57.98,432.39 58.30,430.69 59.08,427.83 C59.86,424.97 61.15,420.28 62.17,416.97 C63.18,413.67 64.89,408.22 65.17,408.00 C65.44,407.78 66.86,411.14 67.68,412.55 C68.51,413.96 69.13,415.13 70.10,416.48 C71.07,417.83 72.35,419.17 73.50,420.66 C74.65,422.15 75.77,423.76 77.00,425.43 C78.23,427.09 79.38,429.10 80.87,430.64 C82.35,432.19 84.05,433.48 85.92,434.70 C87.79,435.93 90.33,437.03 92.08,437.98 C93.84,438.92 95.76,439.77 96.47,440.38 C97.17,440.98 99.90,444.25 101.50,446.06 C103.10,447.87 104.70,449.68 106.05,451.24 C107.40,452.80 108.50,454.25 109.60,455.42 C110.70,456.59 111.65,457.58 112.63,458.26 C113.61,458.94 114.02,459.10 115.50,459.51 C116.97,459.92 115.75,459.90 121.50,460.72 C127.25,461.54 141.08,463.13 150.00,464.43 C158.92,465.73 169.00,467.49 175.00,468.51 C181.00,469.53 182.83,470.07 186.00,470.54 C189.17,471.02 191.83,471.34 194.00,471.35 C196.17,471.35 197.43,471.14 199.00,470.56 C200.57,469.99 201.68,468.96 203.40,467.90 C205.12,466.83 207.23,465.31 209.30,464.16 C211.37,463.01 213.62,461.90 215.80,460.99 C217.98,460.09 219.75,459.83 222.40,458.74 C225.05,457.64 229.07,455.68 231.68,454.44 C234.29,453.20 236.04,452.26 238.06,451.30 C240.08,450.35 242.31,449.48 243.80,448.73 C245.29,447.99 245.97,447.35 247.00,446.84 C248.03,446.33 249.00,445.93 250.00,445.66 C251.00,445.39 252.08,445.18 253.00,445.21 C253.92,445.25 254.67,445.40 255.50,445.88 C256.33,446.35 257.07,447.08 258.00,448.09 C258.93,449.10 260.05,450.71 261.05,451.95 C262.06,453.18 263.14,454.48 264.05,455.50 C264.97,456.53 265.73,457.28 266.55,458.11 C267.38,458.94 268.09,459.86 269.00,460.47 C269.91,461.08 270.63,461.47 272.00,461.77 C273.37,462.08 275.47,462.18 277.20,462.31 C278.93,462.43 278.60,462.84 282.40,462.52 C286.20,462.19 294.57,460.88 300.00,460.36 C305.43,459.84 309.17,459.32 315.00,459.42 C320.83,459.51 329.17,460.33 335.00,460.93 C340.83,461.53 344.17,462.04 350.00,463.02 C355.83,464.00 361.67,465.07 370.00,466.81 C378.33,468.55 395.00,472.36 400.00,473.48" stroke-width="1.8"/>
<path d="M46.50,398.56 C46.57,401.90 46.69,413.25 46.89,418.56 C47.10,423.87 47.36,427.14 47.74,430.42 C48.11,433.70 48.56,436.04 49.13,438.24 C49.69,440.44 50.38,442.60 51.13,443.63 C51.88,444.66 52.80,444.58 53.62,444.41 C54.44,444.24 55.40,443.40 56.04,442.62 C56.69,441.85 56.99,440.92 57.49,439.76 C57.99,438.60 58.27,437.77 59.04,435.64 C59.80,433.51 61.07,429.59 62.07,426.99 C63.08,424.38 64.80,420.20 65.07,420.00 C65.35,419.80 66.75,422.04 67.58,422.98 C68.41,423.92 69.06,424.70 70.04,425.63 C71.03,426.57 72.34,427.50 73.50,428.57 C74.66,429.64 75.76,430.85 77.00,432.04 C78.24,433.23 79.45,434.58 80.94,435.70 C82.44,436.82 84.12,437.76 85.96,438.76 C87.81,439.76 90.28,440.85 92.04,441.70 C93.79,442.56 95.78,443.39 96.49,443.88 C97.20,444.36 99.91,446.80 101.50,448.20 C103.09,449.59 104.67,451.03 106.02,452.25 C107.37,453.46 108.46,454.60 109.60,455.46 C110.74,456.33 111.81,456.96 112.84,457.43 C113.87,457.89 114.29,457.94 115.78,458.25 C117.27,458.56 116.08,458.44 121.78,459.28 C127.49,460.12 141.13,461.89 150.00,463.27 C158.87,464.65 169.00,466.42 175.00,467.53 C181.00,468.65 182.83,469.30 186.00,469.95 C189.17,470.60 191.83,471.29 194.00,471.43 C196.17,471.58 197.43,471.34 199.00,470.81 C200.57,470.28 201.68,469.25 203.40,468.24 C205.12,467.23 207.23,465.81 209.30,464.75 C211.37,463.69 213.62,462.69 215.80,461.90 C217.98,461.11 219.76,460.93 222.40,460.02 C225.04,459.11 229.03,457.51 231.64,456.45 C234.24,455.40 236.00,454.52 238.03,453.68 C240.05,452.84 242.30,452.08 243.80,451.43 C245.30,450.78 245.97,450.22 247.00,449.76 C248.03,449.30 249.00,448.96 250.00,448.68 C251.00,448.40 252.08,448.14 253.00,448.09 C253.92,448.04 254.67,448.06 255.50,448.38 C256.33,448.70 257.08,449.23 258.00,450.02 C258.92,450.81 260.02,452.10 261.02,453.11 C262.03,454.12 263.11,455.20 264.02,456.07 C264.94,456.94 265.69,457.59 266.52,458.33 C267.35,459.07 268.09,459.94 269.00,460.49 C269.91,461.03 270.63,461.41 272.00,461.62 C273.37,461.83 275.47,461.70 277.20,461.74 C278.93,461.77 278.60,462.19 282.40,461.83 C286.20,461.47 294.57,460.12 300.00,459.59 C305.43,459.05 309.17,458.52 315.00,458.62 C320.83,458.71 329.17,459.56 335.00,460.18 C340.83,460.80 344.17,461.32 350.00,462.33 C355.83,463.34 361.67,464.44 370.00,466.24 C378.33,468.03 395.00,471.95 400.00,473.09" stroke-width="1.8"/>
<path d="M46.50,400.00 C46.55,403.33 46.62,414.67 46.80,420.00 C46.98,425.33 47.23,428.67 47.60,432.00 C47.97,435.33 48.43,437.75 49.00,440.00 C49.57,442.25 50.25,444.33 51.00,445.50 C51.75,446.67 52.67,446.92 53.50,447.00 C54.33,447.08 55.33,446.50 56.00,446.00 C56.67,445.50 57.00,444.75 57.50,444.00 C58.00,443.25 58.25,443.08 59.00,441.50 C59.75,439.92 61.00,436.58 62.00,434.50 C63.00,432.42 64.72,429.19 65.00,429.00 C65.28,428.81 66.67,430.22 67.50,430.80 C68.33,431.38 69.00,431.88 70.00,432.50 C71.00,433.12 72.33,433.75 73.50,434.50 C74.67,435.25 75.75,436.17 77.00,437.00 C78.25,437.83 79.50,438.70 81.00,439.50 C82.50,440.30 84.17,440.97 86.00,441.80 C87.83,442.63 90.25,443.72 92.00,444.50 C93.75,445.28 95.79,446.10 96.50,446.50 C97.21,446.90 99.92,448.72 101.50,449.80 C103.08,450.88 104.65,452.05 106.00,453.00 C107.35,453.95 108.43,454.87 109.60,455.50 C110.77,456.13 111.93,456.50 113.00,456.80 C114.07,457.10 114.50,457.07 116.00,457.30 C117.50,457.53 116.33,457.35 122.00,458.20 C127.67,459.05 141.17,460.97 150.00,462.40 C158.83,463.83 169.00,465.62 175.00,466.80 C181.00,467.98 182.83,468.72 186.00,469.50 C189.17,470.28 191.83,471.25 194.00,471.50 C196.17,471.75 197.43,471.50 199.00,471.00 C200.57,470.50 201.68,469.47 203.40,468.50 C205.12,467.53 207.23,466.18 209.30,465.20 C211.37,464.22 213.62,463.30 215.80,462.60 C217.98,461.90 219.77,461.77 222.40,461.00 C225.03,460.23 229.00,458.92 231.60,458.00 C234.20,457.08 235.97,456.25 238.00,455.50 C240.03,454.75 242.30,454.08 243.80,453.50 C245.30,452.92 245.97,452.42 247.00,452.00 C248.03,451.58 249.00,451.28 250.00,451.00 C251.00,450.72 252.08,450.42 253.00,450.30 C253.92,450.18 254.67,450.10 255.50,450.30 C256.33,450.50 257.08,450.88 258.00,451.50 C258.92,452.12 260.00,453.17 261.00,454.00 C262.00,454.83 263.08,455.75 264.00,456.50 C264.92,457.25 265.67,457.83 266.50,458.50 C267.33,459.17 268.08,460.00 269.00,460.50 C269.92,461.00 270.63,461.37 272.00,461.50 C273.37,461.63 275.47,461.33 277.20,461.30 C278.93,461.27 278.60,461.68 282.40,461.30 C286.20,460.92 294.57,459.55 300.00,459.00 C305.43,458.45 309.17,457.90 315.00,458.00 C320.83,458.10 329.17,458.97 335.00,459.60 C340.83,460.23 344.17,460.77 350.00,461.80 C355.83,462.83 361.67,463.97 370.00,465.80 C378.33,467.63 395.00,471.63 400.00,472.80" stroke-width="1.8"/>
<line x1="173.30" y1="19.50" x2="173.30" y2="118.00" stroke-width="1.80"/>
<line x1="101.20" y1="252.50" x2="100.80" y2="381.00" stroke-width="2.00"/>
<line x1="130.70" y1="449.00" x2="130.90" y2="402.00" stroke-width="1.90"/>
<line x1="314.80" y1="448.50" x2="315.10" y2="403.00" stroke-width="2.00"/>
<line x1="331.00" y1="258.70" x2="329.80" y2="429.00" stroke-width="1.80"/>
</g>
<g fill="#000" stroke="none">
<path d="M170.4,116 L176,116 L173.2,125 Z"/>
<path d="M98.2,379 L103.6,379 L100.9,387.5 Z"/>
<path d="M128.8,405 L133.8,405 L131.3,395.8 Z"/>
<path d="M312.8,406 L317.8,406 L315.4,396.8 Z"/>
<path d="M327.4,427.5 L332.2,427.5 L329.8,436 Z"/>
</g>
<g>
<text x="89.90" y="62.20" font-size="21.00" textLength="75.20" lengthAdjust="spacingAndGlyphs">[Indigo]</text>
<text x="183.00" y="40.00" font-size="19.00" textLength="58.90" lengthAdjust="spacingAndGlyphs">3.55x10</text>
<text x="245.10" y="31.60" font-size="13.60" textLength="7.20" lengthAdjust="spacingAndGlyphs">5</text>
<line x1="241.1" y1="28.90" x2="243.5" y2="28.90" stroke="#000" stroke-width="1.2"/>
<text x="182.80" y="69.00" font-size="19.00" textLength="58.60" lengthAdjust="spacingAndGlyphs">2.37x10</text>
<text x="245.10" y="60.60" font-size="13.60" textLength="7.20" lengthAdjust="spacingAndGlyphs">5</text>
<line x1="241.1" y1="57.90" x2="243.5" y2="57.90" stroke="#000" stroke-width="1.2"/>
<text x="182.10" y="99.40" font-size="19.00" textLength="59.10" lengthAdjust="spacingAndGlyphs">0.71x10</text>
<text x="245.10" y="91.00" font-size="13.60" textLength="7.20" lengthAdjust="spacingAndGlyphs">5</text>
<line x1="241.1" y1="88.30" x2="243.5" y2="88.30" stroke="#000" stroke-width="1.2"/>
<text x="181.70" y="127.80" font-size="19.00" textLength="59.00" lengthAdjust="spacingAndGlyphs">0.14x10</text>
<text x="245.10" y="119.40" font-size="13.60" textLength="7.20" lengthAdjust="spacingAndGlyphs">5</text>
<line x1="241.1" y1="116.70" x2="243.5" y2="116.70" stroke="#000" stroke-width="1.2"/>
<text x="380.40" y="36.80" font-size="25.00" textLength="10.40" lengthAdjust="spacingAndGlyphs">a</text>
<text x="383.80" y="276.90" font-size="23.30">b</text>
<text x="342.65" y="265.70" font-size="16.00" textLength="22.20" lengthAdjust="spacingAndGlyphs">340</text>
<text x="342.42" y="287.03" font-size="16.00" textLength="22.20" lengthAdjust="spacingAndGlyphs">330</text>
<text x="342.18" y="308.36" font-size="16.00" textLength="22.20" lengthAdjust="spacingAndGlyphs">320</text>
<text x="341.95" y="329.69" font-size="16.00" textLength="22.20" lengthAdjust="spacingAndGlyphs">310</text>
<text x="341.72" y="351.02" font-size="16.00" textLength="22.20" lengthAdjust="spacingAndGlyphs">300</text>
<text x="341.48" y="372.35" font-size="16.00" textLength="22.20" lengthAdjust="spacingAndGlyphs">290</text>
<text x="341.25" y="393.68" font-size="16.00" textLength="22.20" lengthAdjust="spacingAndGlyphs">280</text>
<text x="341.02" y="415.01" font-size="16.00" textLength="22.20" lengthAdjust="spacingAndGlyphs">270</text>
<text x="340.78" y="436.34" font-size="16.00" textLength="22.20" lengthAdjust="spacingAndGlyphs">260</text>
<text x="340.55" y="457.67" font-size="16.00" textLength="22.20" lengthAdjust="spacingAndGlyphs">250</text>
<text x="279.80" y="332.60" font-size="23.00" textLength="45.50" lengthAdjust="spacingAndGlyphs">T(K)</text>
<text x="62.00" y="504.50" font-size="18.60" textLength="26.20" lengthAdjust="spacingAndGlyphs">300</text>
<text x="120.10" y="505.50" font-size="18.60" textLength="28.40" lengthAdjust="spacingAndGlyphs">400</text>
<text x="180.90" y="506.20" font-size="18.60" textLength="26.20" lengthAdjust="spacingAndGlyphs">500</text>
<text x="239.30" y="506.80" font-size="18.60" textLength="27.60" lengthAdjust="spacingAndGlyphs">600</text>
<text x="298.30" y="508.00" font-size="18.60" textLength="26.20" lengthAdjust="spacingAndGlyphs">700</text>
<text x="357.70" y="509.00" font-size="18.60" textLength="26.20" lengthAdjust="spacingAndGlyphs">800</text>
<text x="193.50" y="541.80" font-size="21.00" textLength="56.30" lengthAdjust="spacingAndGlyphs">&#955;(nm)</text>
<text transform="translate(18.6,305.5) rotate(-90)" font-size="23.3" textLength="112" lengthAdjust="spacingAndGlyphs">Absorbance</text>
</g>
</svg>
</body></html>
